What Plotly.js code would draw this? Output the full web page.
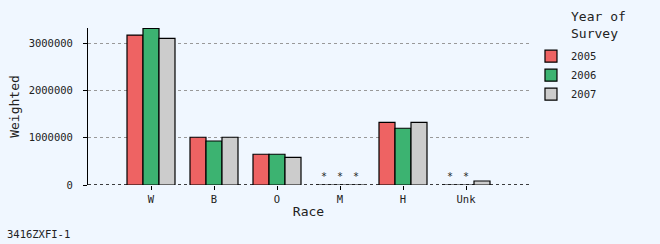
<!DOCTYPE html>
<html><head><meta charset="utf-8">
<script src="https://cdn.plot.ly/plotly-3.0.1.min.js"></script>
<style>html,body{margin:0;padding:0;background:#F0F7FF;}#chart{width:660px;height:244px;}</style>
</head><body><div id="chart"></div>
<script>
const categories = ["W", "B", "O", "M", "H", "Unk"];
const years = ["2005", "2006", "2007"];
// null = suppressed value (shown as "*")
const values2005 = [3170000, 1010000, 650000, null, 1325000, null];
const values2006 = [3310000, 930000, 650000, null, 1200000, null];
const values2007 = [3100000, 1010000, 585000, null, 1325000, 85000];
const yTicks = [0, 1000000, 2000000, 3000000];
const colors = ["#EE6363", "#3CB371", "#CCCCCC"];

const FONT = "DejaVu Sans Mono, monospace";
const series = [values2005, values2006, values2007];
const traces = series.map((vals, i) => ({
  type: "bar",
  name: years[i],
  x: categories,
  y: vals.map(v => v === null ? 0 : v),
  text: vals.map(v => v === null ? "*" : ""),
  textposition: "outside",
  textfont: {family: FONT, size: 10, color: "#222"},
  cliponaxis: false,
  marker: {color: colors[i], line: {color: "#000", width: 1.2}},
  hoverinfo: "skip"
}));

const layout = {
  width: 660, height: 244,
  paper_bgcolor: "#F0F7FF", plot_bgcolor: "#F0F7FF",
  font: {family: FONT, size: 10.5, color: "#222"},
  margin: {l: 88, r: 131, t: 28, b: 59, pad: 0},
  barmode: "group", bargap: 0.238, bargroupgap: 0,
  showlegend: true,
  legend: {x: 1.0045, xanchor: "left", y: 0.913, yanchor: "top",
           font: {family: FONT, size: 10.5, color: "#222"}, bgcolor: "rgba(0,0,0,0)",
           tracegroupgap: 0},
  xaxis: {
    type: "category", range: [-1, 6],
    showline: false, showgrid: false, zeroline: false,
    ticks: "outside", ticklen: 4, tickcolor: "#000",
    tickfont: {family: FONT, size: 10.5, color: "#222"},
    title: {text: "Race", font: {family: FONT, size: 13, color: "#222"}, standoff: 3}
  },
  yaxis: {
    range: [0, 3320000],
    tickvals: yTicks, ticktext: yTicks.map(v => String(v)),
    showline: true, linecolor: "#000", linewidth: 1,
    ticks: "outside", ticklen: 4, tickcolor: "#000",
    ticklabelstandoff: 8,
    showgrid: true, gridcolor: "#999", griddash: "dot", gridwidth: 1,
    zeroline: false,
    tickfont: {family: FONT, size: 10.5, color: "#222"},
    title: {text: "Weighted", font: {family: FONT, size: 13, color: "#222"}, standoff: 6}
  },
  shapes: [{type: "line", xref: "paper", yref: "y", x0: 0, x1: 1, y0: 0, y1: 0,
            line: {color: "#000", width: 1.4, dash: "dot"}, layer: "below"}],
  annotations: [
    {text: "Year of<br>Survey", xref: "paper", yref: "paper", x: 1.09, y: 1.135,
     xanchor: "left", yanchor: "top", align: "left", showarrow: false,
     font: {family: FONT, size: 13, color: "#222"}},
    {text: "3416ZXFI-1", xref: "paper", yref: "paper", x: -0.188, y: -0.26,
     xanchor: "left", yanchor: "top", showarrow: false,
     font: {family: FONT, size: 10.5, color: "#222"}}
  ]
};

Plotly.newPlot("chart", traces, layout, {staticPlot: true, displayModeBar: false});
</script></body></html>
